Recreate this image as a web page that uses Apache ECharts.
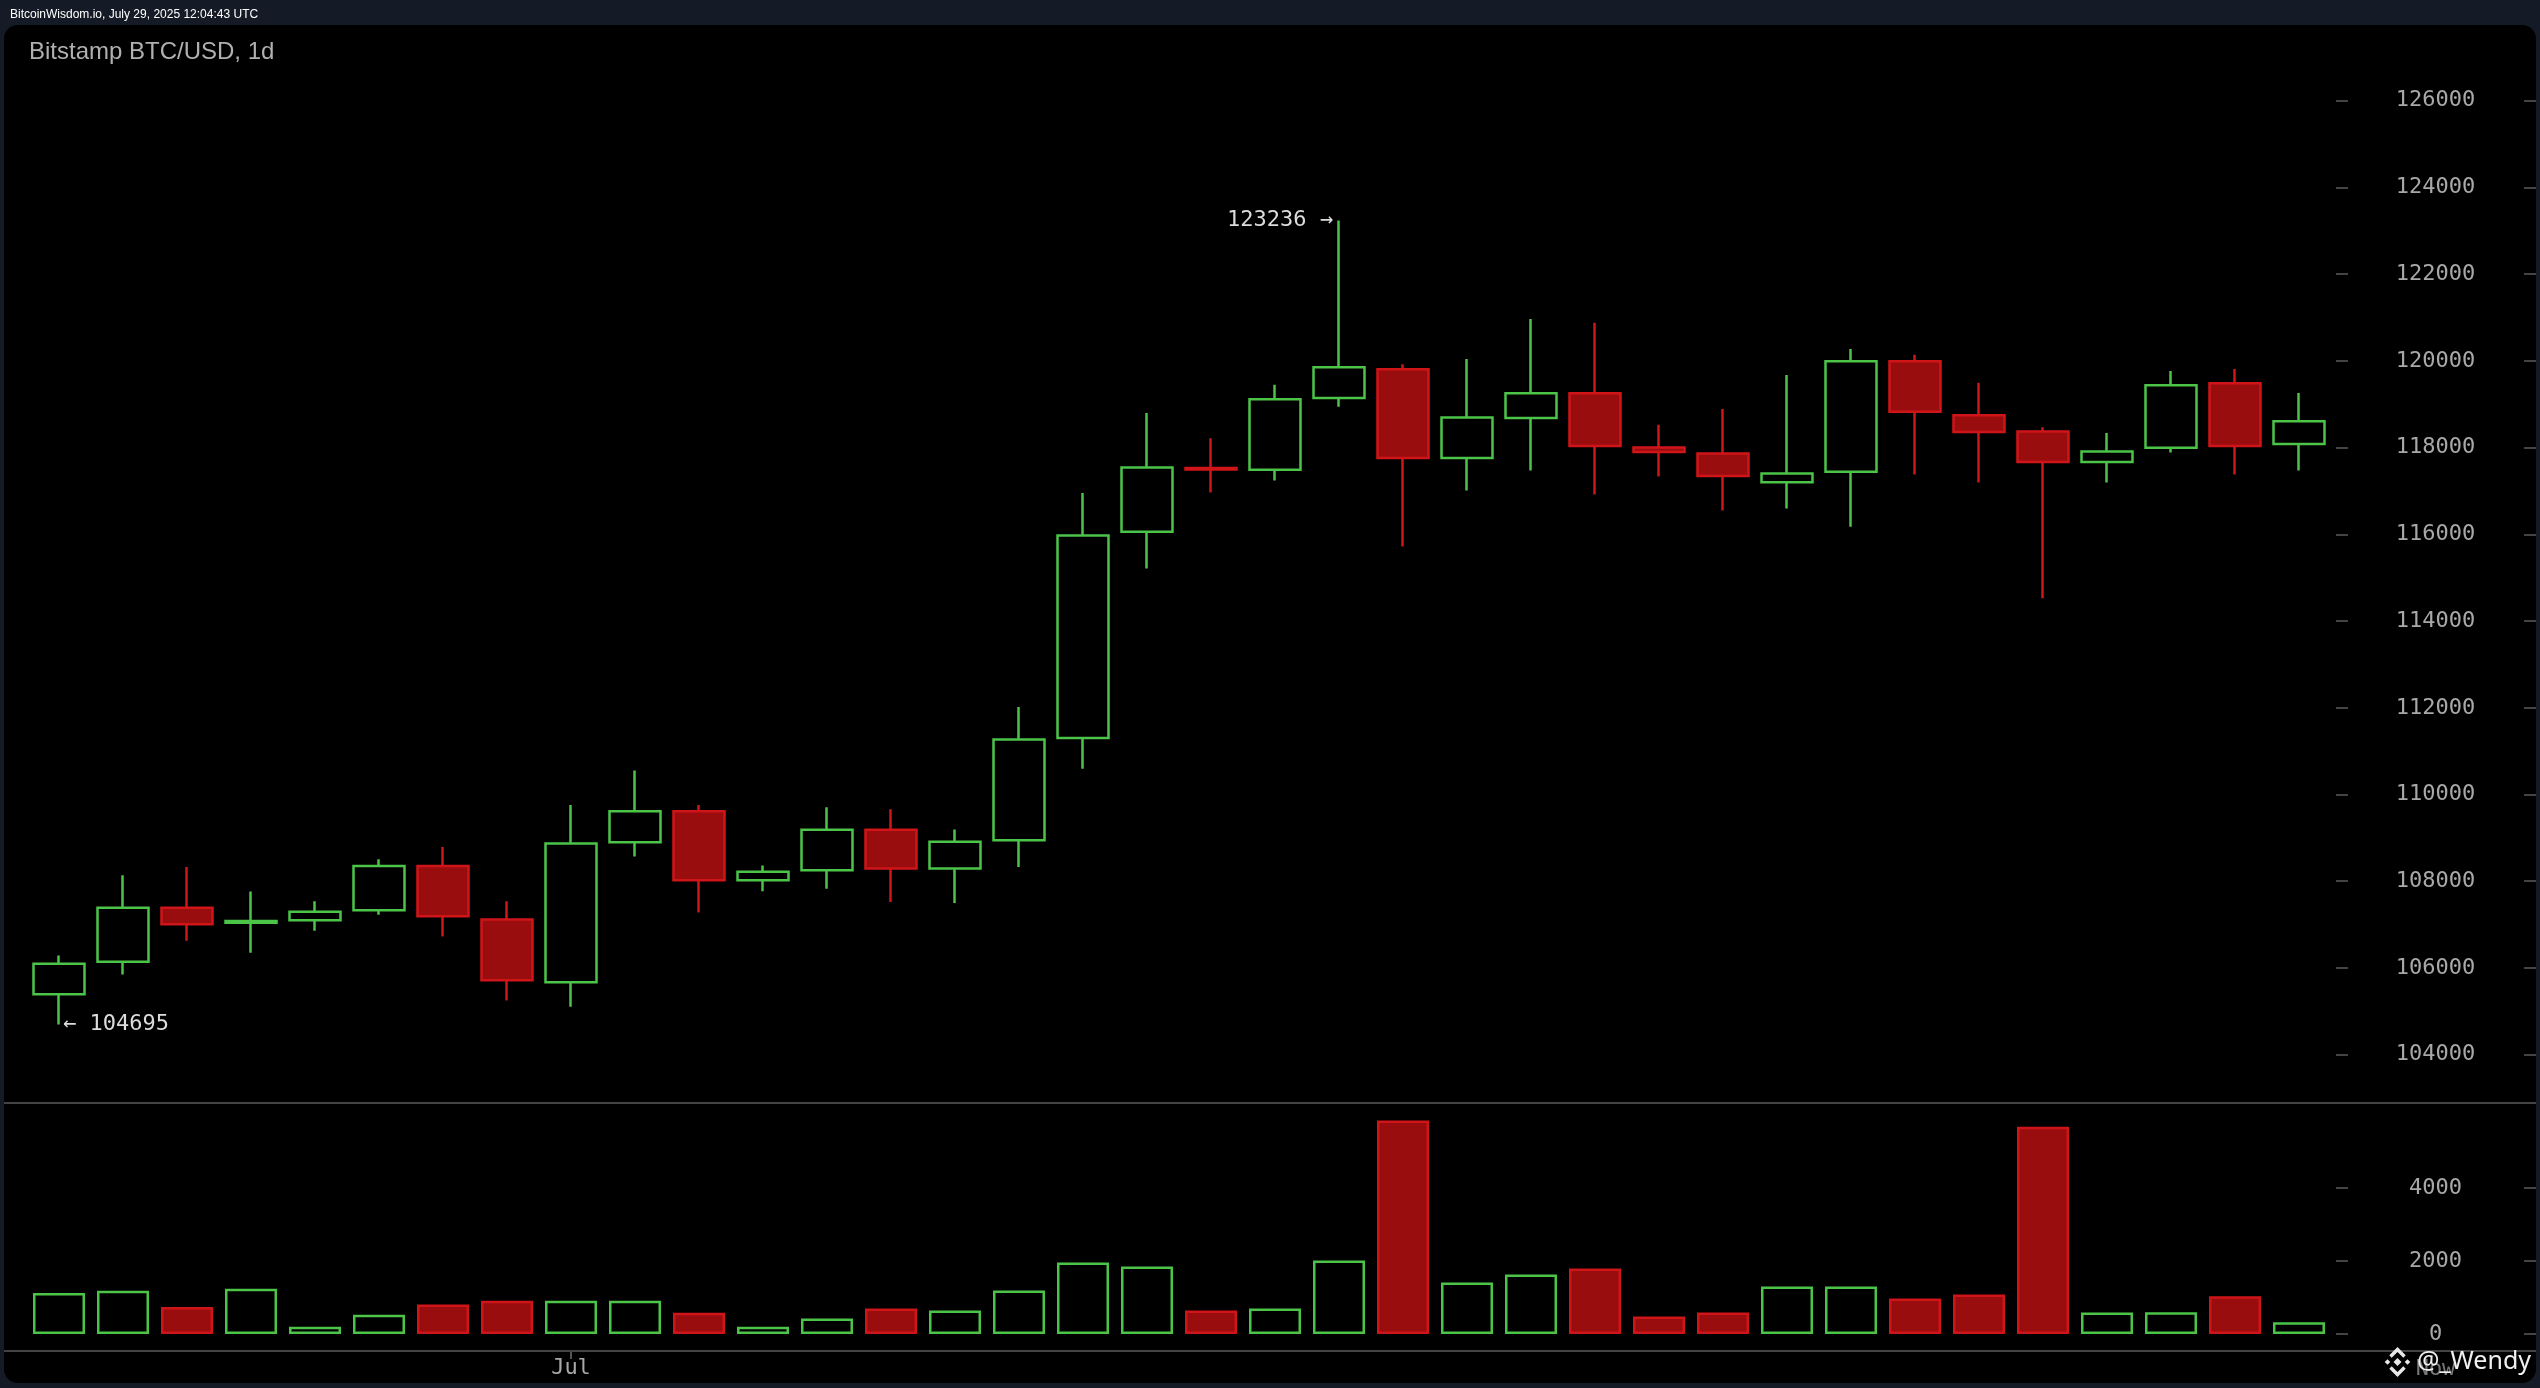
<!DOCTYPE html>
<html>
<head>
<meta charset="utf-8">
<style>
html, body { margin: 0; padding: 0; background: #141a26; }
#main { width: 2540px; height: 1388px; }
</style>
<script src="https://cdn.jsdelivr.net/npm/echarts@6/dist/echarts.min.js"></script>
</head>
<body>
<div id="main"></div>
<script>
var days = ['Jun 23','Jun 24','Jun 25','Jun 26','Jun 27','Jun 28','Jun 29','Jun 30','Jul 1','Jul 2','Jul 3','Jul 4',
	'Jul 5','Jul 6','Jul 7','Jul 8','Jul 9','Jul 10','Jul 11','Jul 12','Jul 13','Jul 14','Jul 15','Jul 16',
	'Jul 17','Jul 18','Jul 19','Jul 20','Jul 21','Jul 22','Jul 23','Jul 24','Jul 25','Jul 26','Jul 27','Jul 28'];
var opens = [105392,106144,107387,107040,107101,107333,108353,107119,105670,108899,109614,108022,
	108255,109189,108296,108943,111304,116059,117530,117490,119143,119805,117758,118681,
	119251,118004,117866,117204,117444,119990,118744,118374,117667,117997,119482,118082];
var closes = [106099,107387,107011,107085,107298,108353,107190,105714,108872,109614,108022,108219,
	109185,108296,108912,111266,115974,117544,117495,119113,119851,117758,118697,119251,
	118035,117897,117343,117404,119990,118828,118359,117667,117913,119436,118036,118605];
var lows = [104695,105848,106627,106349,106859,107226,106725,105249,105106,108568,107280,107772,
	107827,107519,107500,108327,110597,115213,116967,117244,118943,115719,117012,117474,
	116920,117335,116550,116597,116174,117382,117197,114528,117197,117890,117382,117474];
var highs = [106287,108138,108326,107763,107539,108505,108791,107539,109757,110554,109757,108362,
	109704,109658,109196,112020,116951,118798,118213,119451,123236,119920,120043,120966,
	120882,118527,118889,119674,120275,120144,119498,118467,118336,119767,119813,119259];
var volumes = [1124,1188,741,1241,200,529,805,911,911,911,582,200,
	423,697,642,1190,1956,1847,642,697,2011,5846,1409,1628,
	1792,477,587,1299,1299,970,1080,5681,587,596,1035,322];
var volumeTicks = [0, 2000, 4000];
var monthDay = 'Jul 1';
var monthLabel = 'Jul';

var GREEN = '#4bc448';
var RED = '#cf1518';
var RED_FILL = '#990d0f';
var MONO = '"DejaVu Sans Mono", monospace';

var candles = days.map(function(d, i) {
	return [opens[i], closes[i], lows[i], highs[i]];
});
var volumeBars = days.map(function(d, i) {
	var up = closes[i] >= opens[i];
	return {
		value : volumes[i],
		itemStyle : {
			color : up ? '#000' : RED_FILL,
			borderColor : up ? GREEN : RED
		}
	};
});

function priceAxis(offset, withLabels) {
	return {
		type : 'value',
		gridIndex : 0,
		position : 'right',
		offset : offset,
		min : 104000,
		max : 126000,
		interval : 2000,
		splitLine : { show : false },
		axisLine : { show : false },
		axisTick : { show : true, length : 12, lineStyle : { color : '#444', width : 2 } },
		axisLabel : {
			show : withLabels,
			align : 'center',
			margin : 99.5,
			color : '#a8a8a8',
			fontFamily : MONO,
			fontSize : 22,
			formatter : function(v) { return String(v); }
		}
	};
}

// min sits below zero so the time axis can run along the lower divider
function volumeAxis(offset, withLabels) {
	return {
		type : 'value',
		gridIndex : 1,
		position : 'right',
		offset : offset,
		min : -466,
		max : 6000,
		splitLine : { show : false },
		axisLine : { show : false },
		axisTick : { show : true, length : 12, customValues : volumeTicks, lineStyle : { color : '#444', width : 2 } },
		axisLabel : {
			show : withLabels,
			customValues : volumeTicks,
			align : 'center',
			margin : 99.5,
			color : '#a8a8a8',
			fontFamily : MONO,
			fontSize : 22,
			formatter : function(v) { return String(v); }
		}
	};
}

// panel, dividers, "Now" and the watermark are page furniture, not data
function diamond(cx, cy, r) {
	return {
		type : 'polygon',
		z : 100,
		shape : { points : [[cx, cy - r], [cx + r, cy], [cx, cy + r], [cx - r, cy]] },
		style : { fill : '#e8e8e8' }
	};
}

function chevron(cx, cy, dir) {
	return {
		type : 'polyline',
		z : 100,
		shape : { points : [[cx - 7, cy + dir * 3.5], [cx, cy - dir * 3.5], [cx + 7, cy + dir * 3.5]] },
		style : { fill : 'none', stroke : '#e8e8e8', lineWidth : 3.4 }
	};
}

var myChart = echarts.init(document.getElementById('main'));
myChart.setOption({
	animation : false,
	backgroundColor : '#141a26',
	title : [ {
		text : 'BitcoinWisdom.io, July 29, 2025 12:04:43 UTC',
		left : 5,
		top : 4,
		textStyle : { color : '#fff', fontFamily : '"Liberation Sans"', fontSize : 12, fontWeight : 'normal' }
	}, {
		text : 'Bitstamp BTC/USD, 1d',
		left : 24,
		top : 35,
		textStyle : { color : '#b0b0b0', fontFamily : '"Liberation Sans"', fontSize : 24, fontWeight : 'normal' }
	} ],
	graphic : [
		{ type : 'rect', z : -1, shape : { x : 4, y : 25, width : 2532, height : 1358, r : 14 }, style : { fill : '#000' } },
		{ type : 'line', z : 1, shape : { x1 : 4, y1 : 1103, x2 : 2536, y2 : 1103 }, style : { stroke : '#444', lineWidth : 2 } },
		{ type : 'line', z : 1, shape : { x1 : 4, y1 : 1351, x2 : 2536, y2 : 1351 }, style : { stroke : '#444', lineWidth : 2 } },
		{ type : 'text', z : 50, style : { x : 2435.5, y : 1369, text : 'Now', fill : '#777', font : '22px ' + MONO, align : 'center', verticalAlign : 'middle' } },
		diamond(2397.5, 1362, 4),
		diamond(2387.5, 1362, 2.8),
		diamond(2407.5, 1362, 2.8),
		chevron(2397.5, 1353, 1),
		chevron(2397.5, 1371, -1),
		{ type : 'text', z : 100, style : { x : 2417, y : 1362, text : '@_Wendy', fill : '#f0f0f0', font : '25px "Noto Sans"', align : 'left', verticalAlign : 'middle' } }
	],
	grid : [
		{ left : 27, width : 2304, top : 100.7, height : 954 },
		{ left : 27, width : 2304, top : 1115, height : 236 }
	],
	xAxis : [ {
		type : 'category',
		gridIndex : 0,
		data : days,
		axisLine : { show : false },
		axisTick : { show : false },
		axisLabel : { show : false }
	}, {
		type : 'category',
		gridIndex : 1,
		data : days,
		axisLine : { show : false, onZero : false },
		axisTick : {
			show : true,
			alignWithLabel : true,
			length : 8,
			interval : function(i, v) { return v === monthDay; },
			lineStyle : { color : '#555', width : 2 }
		},
		axisLabel : {
			show : true,
			margin : 6,
			interval : function(i, v) { return v === monthDay; },
			formatter : function() { return monthLabel; },
			color : '#a8a8a8',
			fontFamily : MONO,
			fontSize : 22
		}
	} ],
	yAxis : [ priceAxis(5, true), priceAxis(193, false), volumeAxis(5, true), volumeAxis(193, false) ],
	series : [ {
		type : 'candlestick',
		xAxisIndex : 0,
		yAxisIndex : 0,
		barWidth : 52,
		data : candles,
		itemStyle : {
			color : '#000',
			color0 : RED_FILL,
			borderColor : GREEN,
			borderColor0 : RED,
			borderWidth : 2.5
		},
		markPoint : {
			symbol : 'circle',
			symbolSize : 0,
			silent : true,
			label : { show : true, fontFamily : MONO, fontSize : 22, color : '#dcdcdc' },
			data : [ {
				coord : [ 20, 123236 ],
				label : { formatter : '123236 →', position : 'left', distance : 6 }
			}, {
				coord : [ 0, 104695 ],
				label : { formatter : '← 104695', position : 'right', distance : 4 }
			} ]
		}
	}, {
		type : 'bar',
		xAxisIndex : 1,
		yAxisIndex : 2,
		barWidth : 52,
		data : volumeBars,
		itemStyle : { borderWidth : 2.5 }
	} ]
});
</script>
</body>
</html>
